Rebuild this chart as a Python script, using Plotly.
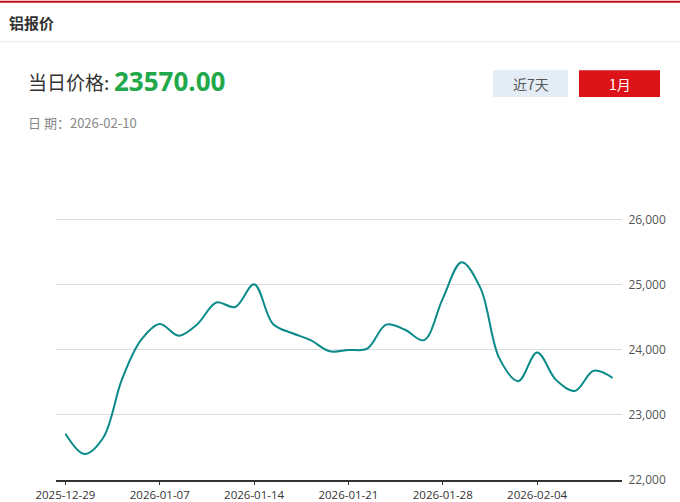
import plotly.graph_objects as go

# ---- data ----
dates = [
    "2025-12-29", "2025-12-30", "2025-12-31", "2026-01-05", "2026-01-06",
    "2026-01-07", "2026-01-08", "2026-01-09", "2026-01-12", "2026-01-13",
    "2026-01-14", "2026-01-15", "2026-01-16", "2026-01-19", "2026-01-20",
    "2026-01-21", "2026-01-22", "2026-01-23", "2026-01-26", "2026-01-27",
    "2026-01-28", "2026-01-29", "2026-01-30", "2026-02-02", "2026-02-03",
    "2026-02-04", "2026-02-05", "2026-02-06", "2026-02-09", "2026-02-10",
]
prices = [
    22710, 22400, 22650, 23550, 24150,
    24400, 24220, 24400, 24730, 24660,
    25010, 24400, 24260, 24150, 23980,
    24000, 24020, 24390, 24310, 24150,
    24790, 25350, 24950, 23870, 23520,
    23960, 23540, 23370, 23680, 23570,
]
tick_dates = dates[::5]
y_ticks = [22000, 23000, 24000, 25000, 26000]

title_text = "铝报价"
price_label = "当日价格:"
price_value = "23570.00"
date_label = "日 期：2026-02-10"
btn_labels = ["近7天", "1月"]

# ---- geometry (pixels) ----
W, H = 680, 502
Y_TOP = 26060
L, R, B = 56, 622, 480.5
T = 220.0 - (Y_TOP - 26000) * 65.1 / 1000


def px(x):
    return (x - L) / (R - L)


def py(y):
    return (B - y) / (B - T)


CJK = "Noto Sans CJK SC"
NUM = "Open Sans"

fig = go.Figure()
fig.add_trace(go.Scatter(
    x=dates, y=prices, mode="lines",
    line=dict(color="#0b8a8a", width=2, shape="spline", smoothing=1.0),
    hoverinfo="x+y", showlegend=False,
))

shapes = [
    dict(type="line", xref="paper", yref="paper", x0=px(0), x1=px(W),
         y0=py(1.5), y1=py(1.5), line=dict(color="#c40f16", width=2)),
    dict(type="line", xref="paper", yref="paper", x0=px(0), x1=px(W),
         y0=py(41.5), y1=py(41.5), line=dict(color="#ececec", width=1)),
    dict(type="rect", xref="paper", yref="paper", x0=px(493), x1=px(568),
         y0=py(97), y1=py(70), fillcolor="#e4ecf5", line=dict(width=0)),
    dict(type="rect", xref="paper", yref="paper", x0=px(579), x1=px(660),
         y0=py(97), y1=py(70), fillcolor="#dc1318", line=dict(width=0)),
]

annotations = [
    dict(text="<b>" + title_text + "</b>", x=px(7), y=py(22.5), xanchor="left",
         yanchor="middle", font=dict(family=CJK, size=15, color="#333333")),
    dict(text=price_label, x=px(26), y=py(81), xanchor="left", yanchor="middle",
         font=dict(family=CJK, size=19, color="#333333")),
    dict(text="<b>" + price_value + "</b>", x=px(112), y=py(81), xanchor="left",
         yanchor="middle", font=dict(family=NUM, size=26, color="#21a84a")),
    dict(text=date_label, x=px(26), y=py(122), xanchor="left", yanchor="middle",
         font=dict(family=CJK, size=13, color="#888888")),
    dict(text=btn_labels[0], x=px(530.5), y=py(83.5), xanchor="center",
         yanchor="middle", font=dict(family=CJK, size=14, color="#555555")),
    dict(text=btn_labels[1], x=px(619.5), y=py(83.5), xanchor="center",
         yanchor="middle", font=dict(family=CJK, size=14, color="#ffffff")),
]
for a in annotations:
    a.update(xref="paper", yref="paper", showarrow=False)

fig.update_layout(
    width=W, height=H,
    margin=dict(l=L, r=W - R, t=T, b=H - B, pad=0),
    paper_bgcolor="white", plot_bgcolor="white",
    shapes=shapes, annotations=annotations,
    xaxis=dict(
        type="category", categoryorder="array", categoryarray=dates,
        range=[-0.5, len(dates) - 0.5],
        tickmode="array", tickvals=tick_dates, ticktext=tick_dates,
        ticks="outside", ticklen=3, tickcolor="#333333", tickwidth=1,
        showline=True, linecolor="#333333", linewidth=1.5,
        showgrid=False, zeroline=False, automargin=False,
        tickfont=dict(family=NUM, size=11.5, color="#333333"),
    ),
    yaxis=dict(
        side="right", range=[22000, Y_TOP],
        tickmode="array", tickvals=y_ticks,
        ticktext=[f"{v:,}" for v in y_ticks],
        showgrid=True, gridcolor="#dddddd", gridwidth=1.2,
        zeroline=False, showline=False, automargin=False,
        ticks="outside", ticklen=3, tickcolor="rgba(0,0,0,0)",
        tickfont=dict(family=NUM, size=12, color="#555555"),
    ),
)

fig.write_html(
    "out.html",
    config={"displayModeBar": False},
    post_script="document.body.style.margin='0';document.body.style.overflow='hidden';",
)
